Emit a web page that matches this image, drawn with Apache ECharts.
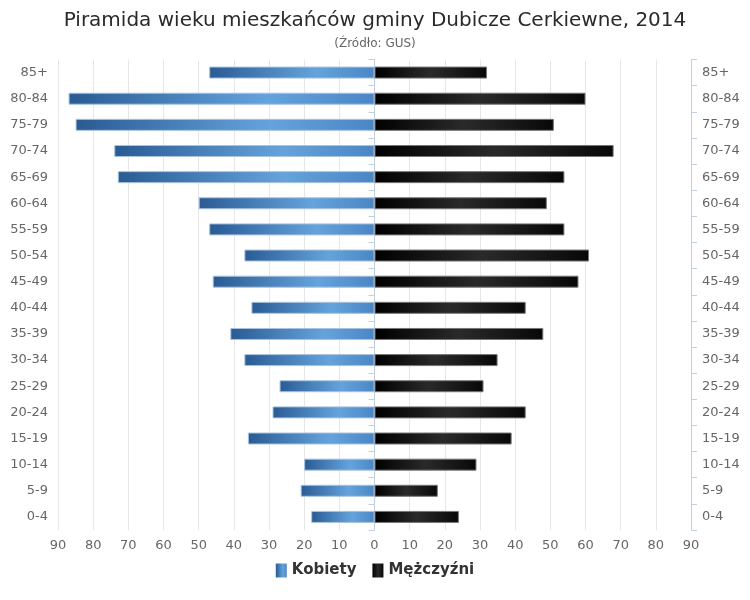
<!DOCTYPE html>
<html>
<head>
<meta charset="utf-8">
<script src="https://cdn.jsdelivr.net/npm/echarts@6/dist/echarts.min.js"></script>
<style>html,body{margin:0;padding:0;background:#fff}#c{width:750px;height:600px}</style>
</head>
<body>
<div id="c"></div>
<script>
const categories = ['0-4','5-9','10-14','15-19','20-24','25-29','30-34','35-39','40-44','45-49','50-54','55-59','60-64','65-69','70-74','75-79','80-84','85+'];
const kobiety = [18,21,20,36,29,27,37,41,35,46,37,47,50,73,74,85,87,47];
const mezczyzni = [24,18,29,39,43,31,35,48,43,58,61,54,49,54,68,51,60,32];
const xTicks = [-90,-80,-70,-60,-50,-40,-30,-20,-10,0,10,20,30,40,50,60,70,80,90];

const chart = echarts.init(document.getElementById('c'), null, {renderer:'canvas'});
const FONT = 'DejaVu Sans';
const catAxis = (pos) => ({
  type:'category', position:pos, data:categories,
  axisLine:{show:true, lineStyle:{color:'#C0D0E0'}},
  axisTick:{show:true, length:6, lineStyle:{color:'#C0D0E0'}},
  axisLabel:{color:'#666', fontFamily:FONT, fontSize:13, margin:pos==='left'?10:11}
});
chart.setOption({
  animation:false,
  title:{
    text:'Piramida wieku mieszkańców gminy Dubicze Cerkiewne, 2014',
    subtext:'(Źródło: GUS)',
    left:'center', top:6, itemGap:7,
    textStyle:{fontFamily:FONT, fontSize:20, fontWeight:'normal', color:'#2a2a2a'},
    subtextStyle:{fontFamily:FONT, fontSize:12, color:'#666'}
  },
  legend:{
    bottom:17, left:'center', itemWidth:11, itemHeight:14, itemGap:16, icon:'rect',
    itemStyle:{borderWidth:0},
    textStyle:{fontFamily:FONT, fontSize:15, fontWeight:'bold', color:'#333'},
    data:['Kobiety','Mężczyźni']
  },
  grid:{left:58, right:59, top:59.5, bottom:70},
  xAxis:{
    type:'value', min:-90, max:90, interval:10,
    axisLine:{show:false}, axisTick:{show:false},
    splitLine:{show:true, lineStyle:{color:'#e6e6e6'}},
    axisLabel:{color:'#666', fontFamily:FONT, fontSize:13, margin:9,
      formatter:(v)=> String(Math.abs(v))}
  },
  yAxis:[catAxis('left'), catAxis('right')],
  series:[
    {
      name:'Kobiety', type:'bar', yAxisIndex:0, barWidth:12, barGap:'-100%',
      data:kobiety.map(v=>-v),
      itemStyle:{
        color:new echarts.graphic.LinearGradient(0,0,1,0,[
          {offset:0,color:'#2a5b93'},{offset:0.65,color:'#65a3dc'},{offset:1,color:'#4a86c4'}]),
        borderColor:'#a9c3e0', borderWidth:1
      }
    },
    {
      name:'Mężczyźni', type:'bar', yAxisIndex:0, barWidth:12, barGap:'-100%',
      data:mezczyzni,
      itemStyle:{
        color:new echarts.graphic.LinearGradient(0,0,1,0,[
          {offset:0,color:'#000'},{offset:0.5,color:'#2a2a2a'},{offset:1,color:'#080808'}]),
        borderColor:'#777', borderWidth:1
      }
    }
  ]
});
</script>
</body>
</html>
